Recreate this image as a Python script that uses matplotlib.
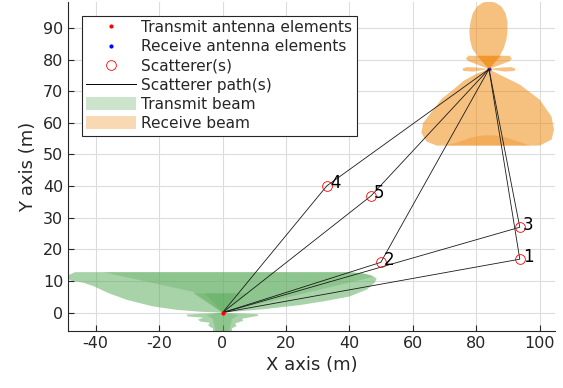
import matplotlib.pyplot as plt
from matplotlib.patches import Patch
from matplotlib.lines import Line2D

plt.rcParams["axes.unicode_minus"] = False

# positions (m)
tx_pos = (0.0, 0.0)
rx_pos = (84.0, 77.0)

scat_x = [93.7, 49.9, 93.7, 32.9, 46.8]
scat_y = [16.9, 15.9, 27.0, 40.1, 36.9]
scat_labels = ["1", "2", "3", "4", "5"]

x_ticks = [-40, -20, 0, 20, 40, 60, 80, 100]
y_ticks = [0, 10, 20, 30, 40, 50, 60, 70, 80, 90]

# transmit beam outlines (x, y)
tx_lobes = [(0, 0), (-7, 0.3), (-14.5, 0.9), (-22, 2.0), (-30, 4.0), (-36, 6.2),
            (-40.7, 8.4), (-44, 9.5), (-47.5, 10.1), (-48.9, 10.8), (-48.4, 11.9),
            (-46.5, 12.8), (40, 12.8), (44, 12.5), (47, 11.8), (48.6, 10.8),
            (48, 9.5), (45.5, 7.3), (40, 5.1), (32, 3.6), (24.4, 2.4), (12, 1.0)]
tx_band = [(0, 0), (-9.3, 6.6), (-37.6, 12.8), (40, 12.8), (45, 12.2), (47.5, 11.3)]
tx_core = [(0, 0), (-9.2, 6.1), (8.1, 6.1)]
tx_core_inner = [(0, 0), (-5.5, 6.1), (4.4, 6.1)]
tx_side = [(0, 0), (-11.3, -0.6), (-11, -1.2), (-6, -1.6), (-7.7, -2.2), (-7, -2.8),
           (-4, -3.2), (-4.5, -3.9), (-4, -4.5), (-3, -4.9), (-3, -6.5), (3, -6.5),
           (3, -4.9), (4.4, -4.3), (4, -3.4), (6.5, -2.6), (6.2, -1.9), (11.3, -1.0),
           (11, -0.5)]
tx_side_inner = [(0, 0), (-5, -0.8), (-3, -2), (-2, -6.5), (2, -6.5), (3, -2), (5, -0.8)]

# receive beam outlines
rx_main = [(84, 77), (80, 75.5), (76, 73.3), (72.7, 70.5), (69, 67.5), (66.4, 64.1),
           (63.2, 59.9), (62.7, 56.8), (64.3, 54.1), (67.5, 52.8), (100, 52.8),
           (103.7, 54.7), (104.5, 57.8), (103.7, 62.0), (100, 67.3), (93.7, 72.1),
           (87.4, 75.2)]
rx_hump = [(70, 52.8), (74, 53.8), (78, 55.2), (81, 55.9), (84, 56.1), (87, 55.9),
           (90, 55.2), (94, 53.8), (97, 52.8)]
rx_top = [(84, 77), (80.5, 81), (78.7, 83.5), (78.0, 86.3), (77.8, 89), (78.2, 92),
          (78.9, 94.7), (80.3, 96.8), (82, 98.0), (84, 98.4), (86, 98.0), (87.9, 96.8),
          (89.2, 94.7), (89.8, 92), (89.8, 89), (89.5, 86.3), (88.6, 83.5), (87.3, 81)]
rx_side1 = [(84, 77), (77.5, 79.5), (76.7, 80.3), (77.5, 81.2), (90.5, 81.2),
            (91.2, 80.3), (90.5, 79.5)]
rx_side1_inner = [(84, 77), (80, 81.2), (88, 81.2)]
rx_side2 = [(84, 77), (80, 77.5), (77, 77.6), (75.6, 77.1), (76, 76.4), (79, 76.2),
            (84, 77), (89, 76.2), (92, 76.4), (92.4, 77.1), (91, 77.6), (88, 77.5)]

green = (85 / 255, 168 / 255, 85 / 255)
orange = (238 / 255, 132 / 255, 5 / 255)
txt = "#262626"

fig = plt.figure(figsize=(5.63, 3.88), dpi=100)
ax = fig.add_axes([68 / 563, 57 / 388, 487 / 563, 329 / 388])


def fill(pts, color, alpha):
    xs = [p[0] for p in pts]
    ys = [p[1] for p in pts]
    ax.fill(xs, ys, color=color, alpha=alpha, lw=0, zorder=2)


fill(tx_lobes, green, 0.51)
fill(tx_band, green, 0.3)
fill(tx_core, green, 0.3)
fill(tx_core_inner, green, 0.3)
fill(tx_side, green, 0.51)
fill(tx_side_inner, green, 0.3)

fill(rx_main, orange, 0.51)
fill(rx_hump, orange, 0.3)
fill(rx_top, orange, 0.51)
fill(rx_side1, orange, 0.51)
fill(rx_side1_inner, orange, 0.3)
fill(rx_side2, orange, 0.51)

for sx, sy in zip(scat_x, scat_y):
    ax.plot([tx_pos[0], sx, rx_pos[0]], [tx_pos[1], sy, rx_pos[1]],
            color="#1a1a1a", lw=0.6, zorder=3)

ax.plot(scat_x, scat_y, "o", mfc="none", mec="red", ms=7, mew=0.6, zorder=4)
for sx, sy, lab in zip(scat_x, scat_y, scat_labels):
    ax.text(sx + 1.0, sy + 0.8, lab, fontsize=12, color="black", va="center", zorder=5)

ax.plot(tx_pos[0], tx_pos[1], ".", color="red", ms=4, zorder=4)
ax.plot(rx_pos[0], rx_pos[1], ".", color="blue", ms=4, zorder=1)

ax.set_xlim(-48.7, 104.8)
ax.set_ylim(-5.8, 98.2)
ax.set_xticks(x_ticks)
ax.set_yticks(y_ticks)
ax.grid(True, color="#dcdcdc", lw=0.8, zorder=0)
ax.set_axisbelow(True)
for s in ["top", "right"]:
    ax.spines[s].set_visible(False)
for s in ["left", "bottom"]:
    ax.spines[s].set_color(txt)
    ax.spines[s].set_linewidth(0.8)
ax.tick_params(direction="in", length=4, width=0.8, colors=txt, labelsize=11.5)
ax.set_xlabel("X axis (m)", fontsize=13, color=txt)
ax.set_ylabel("Y axis (m)", fontsize=13, color=txt)

handles = [
    Line2D([], [], ls="none", marker=".", color="red", ms=4),
    Line2D([], [], ls="none", marker=".", color="blue", ms=4),
    Line2D([], [], ls="none", marker="o", mfc="none", mec="red", ms=7, mew=0.6),
    Line2D([], [], color="black", lw=0.7),
    Patch(facecolor=green, alpha=0.3, lw=0),
    Patch(facecolor=orange, alpha=0.3, lw=0),
]
labels = ["Transmit antenna elements", "Receive antenna elements", "Scatterer(s)",
          "Scatterer path(s)", "Transmit beam", "Receive beam"]
leg = ax.legend(handles, labels, loc="upper left", bbox_to_anchor=(81.7 / 563, 1 - 15.7 / 388),
                bbox_transform=fig.transFigure, borderaxespad=0, fontsize=11.1,
                handlelength=3.25, handleheight=0.93, handletextpad=0.3,
                labelspacing=0.27, borderpad=0.3, fancybox=False, framealpha=1)
leg.get_frame().set_edgecolor(txt)
leg.get_frame().set_linewidth(0.8)
for t in leg.get_texts():
    t.set_color(txt)

fig.savefig("out.png", dpi=100)
